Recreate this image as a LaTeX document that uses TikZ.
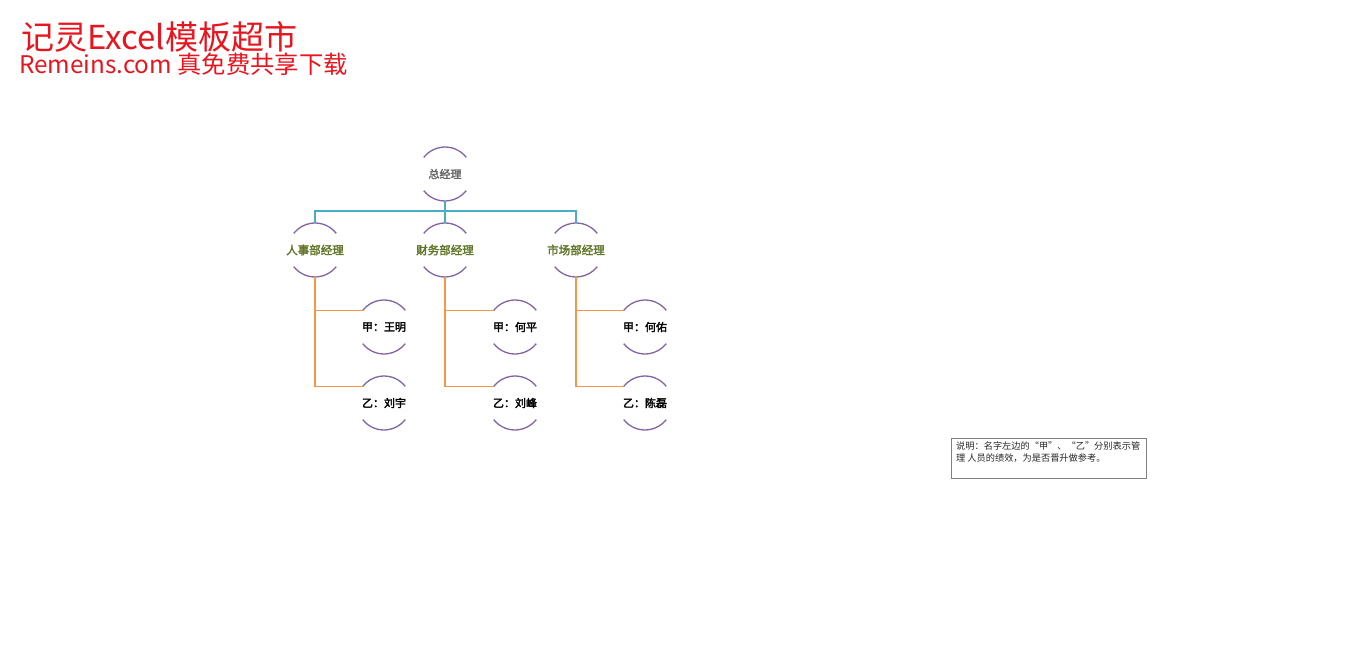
\documentclass[tikz,border=0pt]{standalone}
\usepackage{fontspec}
\setmainfont{Noto Sans CJK SC}
\newfontfamily\cjk{Noto Sans CJK SC}
\newfontfamily\cjkb[FakeBold=2.5]{Noto Sans CJK SC}
\definecolor{titlered}{RGB}{232,20,30}
\definecolor{arcpurple}{RGB}{128,100,162}
\definecolor{lineteal}{RGB}{75,172,198}
\definecolor{lineorange}{RGB}{247,150,70}
\definecolor{lvtwo}{RGB}{96,118,40}
\definecolor{notegray}{RGB}{128,128,128}
\tikzset{
  org/.style={circle,minimum size=54pt,inner sep=0pt,outer sep=0pt},
  arcline/.style={draw=arcpurple,line width=1.3pt},
  tealline/.style={draw=lineteal,line width=1.6pt},
  orangeline/.style={draw=lineorange,line width=1.6pt},
  lvone/.style={font=\cjkb\fontsize{11}{13}\selectfont,text=black!60},
  lvtwotext/.style={font=\cjkb\fontsize{11.5}{13}\selectfont,text=lvtwo},
  lvthree/.style={font=\cjkb\fontsize{11}{13}\selectfont,text=black},
}
\begin{document}
\begin{tikzpicture}[x=1pt,y=1pt]
\useasboundingbox (0,0) rectangle (1360,649);
% titles
\node[anchor=base west,inner sep=0pt,text=titlered,font=\cjk\fontsize{33}{36}\selectfont] (t1) at (21,599) {记灵Excel模板超市};
\node[anchor=base west,inner sep=0pt,text=titlered,font=\cjk\fontsize{24.3}{26}\selectfont] (t2) at (19,575) {Remeins.com 真免费共享下载};
% nodes
\node[org,label={[lvone]center:总经理}] (top) at (445,475) {};
\node[org,label={[lvtwotext]center:人事部经理}] (m1) at (315,399) {};
\node[org,label={[lvtwotext]center:财务部经理}] (m2) at (445,399) {};
\node[org,label={[lvtwotext]center:市场部经理}] (m3) at (576,399) {};
\node[org,label={[lvthree]center:甲：王明}] (a1) at (384,322) {};
\node[org,label={[lvthree]center:乙：刘宇}] (b1) at (384,246) {};
\node[org,label={[lvthree]center:甲：何平}] (a2) at (515,322) {};
\node[org,label={[lvthree]center:乙：刘峰}] (b2) at (515,246) {};
\node[org,label={[lvthree]center:甲：何佑}] (a3) at (645,322) {};
\node[org,label={[lvthree]center:乙：陈磊}] (b3) at (645,246) {};
% arcs
\foreach \n in {top,m1,m2,m3,a1,b1,a2,b2,a3,b3}{
  \draw[arcline] ([shift={(38:27pt)}]\n.center) arc[start angle=38,end angle=142,radius=27pt];
  \draw[arcline] ([shift={(218:27pt)}]\n.center) arc[start angle=218,end angle=322,radius=27pt];
}
% teal connectors
\coordinate (bus) at (445,438);
\draw[tealline] (top.south) -- (bus);
\draw[tealline] (m1.north) |- (bus) -| (m3.north);
\draw[tealline] (bus) -- (m2.north);
% orange connectors
\foreach \m/\a/\b in {m1/a1/b1,m2/a2/b2,m3/a3/b3}{
  \draw[orangeline] (\m.south) |- (\b.142);
  \draw[orangeline] (\m.south) |- (\a.142);
}
% note
\node[draw=notegray,line width=0.8pt,minimum width=195pt,minimum height=40pt,anchor=north west,inner sep=0pt] (note) at (951,211) {};
\node[anchor=north west,inner sep=0pt,align=left,font=\cjk\fontsize{9.2}{12}\selectfont,text=black!85] (notetext) at ([shift={(5,-4)}]note.north west) {说明：名字左边的“甲”、“乙”分别表示管\\理 人员的绩效，为是否晋升做参考。};
\end{tikzpicture}
\end{document}
